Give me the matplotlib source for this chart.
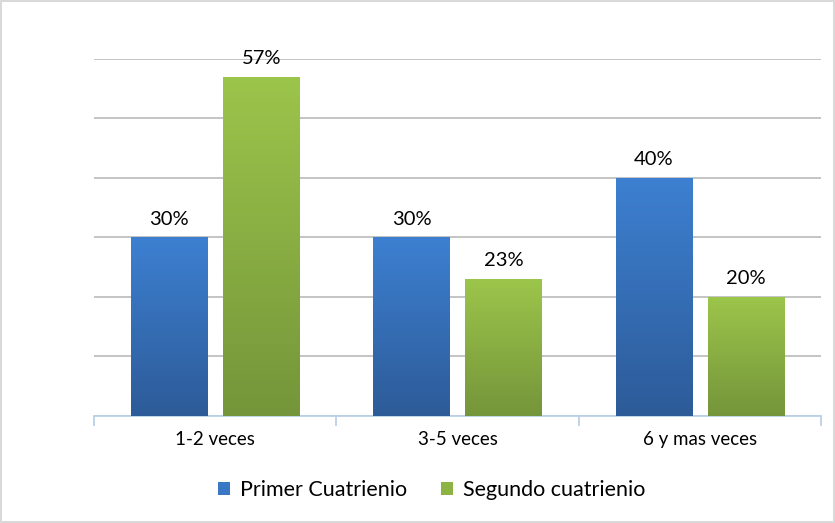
import numpy as np
import matplotlib.pyplot as plt
from matplotlib.patches import Patch
from matplotlib.colors import LinearSegmentedColormap

categories = ["1-2 veces", "3-5 veces", "6 y mas veces"]
primer = [0.30, 0.30, 0.40]
segundo = [0.57, 0.23, 0.20]
series_names = ["Primer Cuatrienio", "Segundo cuatrienio"]

plt.rcParams["font.family"] = ["Lato", "DejaVu Sans"]

fig = plt.figure(figsize=(8.35, 5.23), dpi=100)
fig.patch.set_edgecolor("#D9D9D9")
fig.patch.set_linewidth(1.5)
ax = fig.add_axes([0.1126, 0.2046, 0.8706, 0.6826])

x = np.arange(len(categories))
w = 0.314
off = 0.19

blue_cmap = LinearSegmentedColormap.from_list("b", ["#2D5B98", "#3D80D1"])
green_cmap = LinearSegmentedColormap.from_list("g", ["#75953A", "#9CC54B"])
grad = np.linspace(0, 1, 256).reshape(-1, 1)

for vals, pos, cmap in [(primer, x - off, blue_cmap), (segundo, x + off, green_cmap)]:
    bars = ax.bar(pos, vals, w, color="none", zorder=3)
    for b, v in zip(bars, vals):
        im = ax.imshow(grad, cmap=cmap, aspect="auto", origin="lower",
                       extent=[b.get_x(), b.get_x() + b.get_width(), 0, v], zorder=3)
        im.set_clip_path(b)
        ax.annotate(f"{v:.0%}", (b.get_x() + b.get_width() / 2, v),
                    xytext=(0, 7), textcoords="offset points",
                    ha="center", va="bottom", fontsize=14.5, color="#000000")

ax.set_xlim(-0.5, 2.5)
ax.set_ylim(0, 0.6)
ax.set_yticks(np.arange(0, 0.61, 0.1))
ax.set_yticklabels([])
ax.tick_params(axis="y", length=0)
ax.yaxis.grid(True, color="#BFBFBF", linewidth=1.3, zorder=0)
ax.set_axisbelow(True)

ax.set_xticks(x)
ax.set_xticklabels(categories, fontsize=13.5)
ax.tick_params(axis="x", length=0, pad=11)
ax.set_xticks([-0.5, 0.5, 1.5, 2.5], minor=True)
ax.tick_params(axis="x", which="minor", length=7, color="#BCD0E8", width=1.3)

for s in ["top", "right", "left"]:
    ax.spines[s].set_visible(False)
ax.spines["bottom"].set_color("#BCD0E8")
ax.spines["bottom"].set_linewidth(1.3)

handles = [Patch(facecolor="#3A78C6"), Patch(facecolor="#8DB443")]
fig.legend(handles, series_names, loc="center", bbox_to_anchor=(0.517, 0.063),
           ncol=2, frameon=False, fontsize=15.5, handlelength=0.55, handleheight=0.55,
           handletextpad=0.45, columnspacing=1.6)

fig.savefig("out.png", dpi=100)
